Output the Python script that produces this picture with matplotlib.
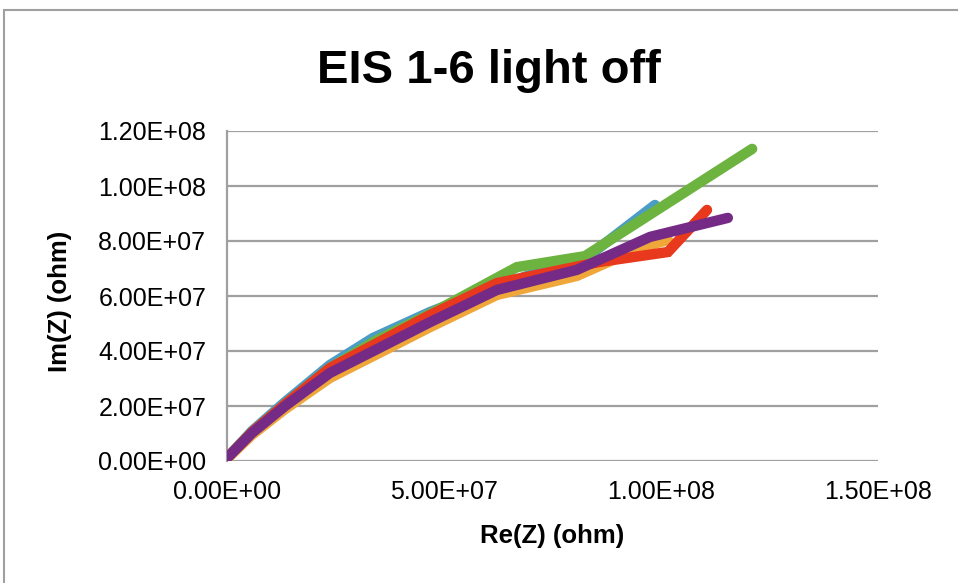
import numpy as np
import matplotlib.pyplot as plt
import matplotlib.ticker as ticker
from matplotlib.patches import Rectangle

# Nyquist data (ohm)
blue_re = [0.23e6, 5.76e6, 13.4e6, 23.7e6, 33.6e6, 46.8e6, 62.2e6, 83.6e6, 98.6e6]
blue_im = [1.45e6, 10.9e6, 21.5e6, 34.9e6, 44.7e6, 54.2e6, 63.6e6, 74.9e6, 93.1e6]

orange_re = [0.23e6, 5.76e6, 13.4e6, 23.7e6, 34.6e6, 46.8e6, 62.2e6, 80.6e6, 95.2e6, 101.6e6]
orange_im = [1.1e6, 9.5e6, 18.9e6, 30.2e6, 38.9e6, 48.7e6, 60.4e6, 67.3e6, 77.5e6, 80.4e6]

green_re = [0.23e6, 5.76e6, 13.4e6, 23.7e6, 34.1e6, 46.8e6, 66.8e6, 82.5e6, 121.0e6]
green_im = [1.45e6, 10.5e6, 20.7e6, 33.8e6, 43.6e6, 53.5e6, 70.5e6, 74.5e6, 113.5e6]

red_re = [0.23e6, 5.76e6, 13.4e6, 23.7e6, 34.6e6, 46.8e6, 62.2e6, 85.9e6, 101.6e6, 110.6e6]
red_im = [1.45e6, 10.5e6, 20.7e6, 33.8e6, 42.9e6, 53.1e6, 64.7e6, 72.4e6, 76.0e6, 91.3e6]

purple_re = [0.23e6, 5.76e6, 13.4e6, 23.7e6, 34.6e6, 46.8e6, 62.2e6, 80.6e6, 97.5e6, 115.4e6]
purple_im = [1.45e6, 10.2e6, 20.0e6, 32.0e6, 40.7e6, 50.5e6, 62.2e6, 69.5e6, 81.5e6, 88.4e6]

series = [
    (blue_re, blue_im, '#4A9DC6'),
    (orange_re, orange_im, '#F0A73A'),
    (green_re, green_im, '#6DB33F'),
    (red_re, red_im, '#E8381D'),
    (purple_re, purple_im, '#752A85'),
]

plt.rcParams['font.family'] = ['Liberation Sans', 'DejaVu Sans']

W, H = 958, 583
fig = plt.figure(figsize=(W / 100, H / 100), dpi=100)
ax = fig.add_axes([227 / W, 1 - 461 / H, 651 / W, 330 / H])

for re_z, im_z, col in series:
    ax.plot(re_z, im_z, color=col, lw=7.5, solid_capstyle='round',
            solid_joinstyle='miter', zorder=3)

ax.set_xlim(0, 1.5e8)
ax.set_ylim(0, 1.2e8)
ax.set_xticks([0, 5e7, 1e8, 1.5e8])
ax.set_yticks(np.arange(0, 1.21e8, 2e7))
fmt = ticker.FuncFormatter(lambda v, _: '{:.2E}'.format(v))
ax.xaxis.set_major_formatter(fmt)
ax.yaxis.set_major_formatter(fmt)
ax.tick_params(length=0, labelsize=18)
ax.tick_params(axis='y', pad=15)
ax.tick_params(axis='x', pad=14)

ax.grid(axis='y', color='#A0A0A0', lw=1.6, zorder=1)
for s in ['top', 'right', 'bottom']:
    ax.spines[s].set_visible(False)
ax.spines['left'].set_color('#A0A0A0')
ax.spines['left'].set_linewidth(1.6)

# title and axis titles placed like the spreadsheet chart
fig.text(489 / W, 1 - 83 / H, 'EIS 1-6 light off', fontsize=34,
         fontweight='bold', ha='center', va='baseline')
fig.text(552 / W, 1 - 543 / H, 'Re(Z) (ohm)', fontsize=18.5,
         fontweight='bold', ha='center', va='baseline')
fig.text(60 / W, 1 - 301 / H, 'Im(Z) (ohm)', fontsize=18.5,
         fontweight='bold', ha='center', va='center', rotation=90)

# chart area border
fig.patches.append(Rectangle((4 / W, -0.1), 1.2, 1.1 - 10 / H,
                             transform=fig.transFigure, fill=False,
                             edgecolor='#A0A0A0', lw=1.5))

fig.savefig('out.png', dpi=100)
